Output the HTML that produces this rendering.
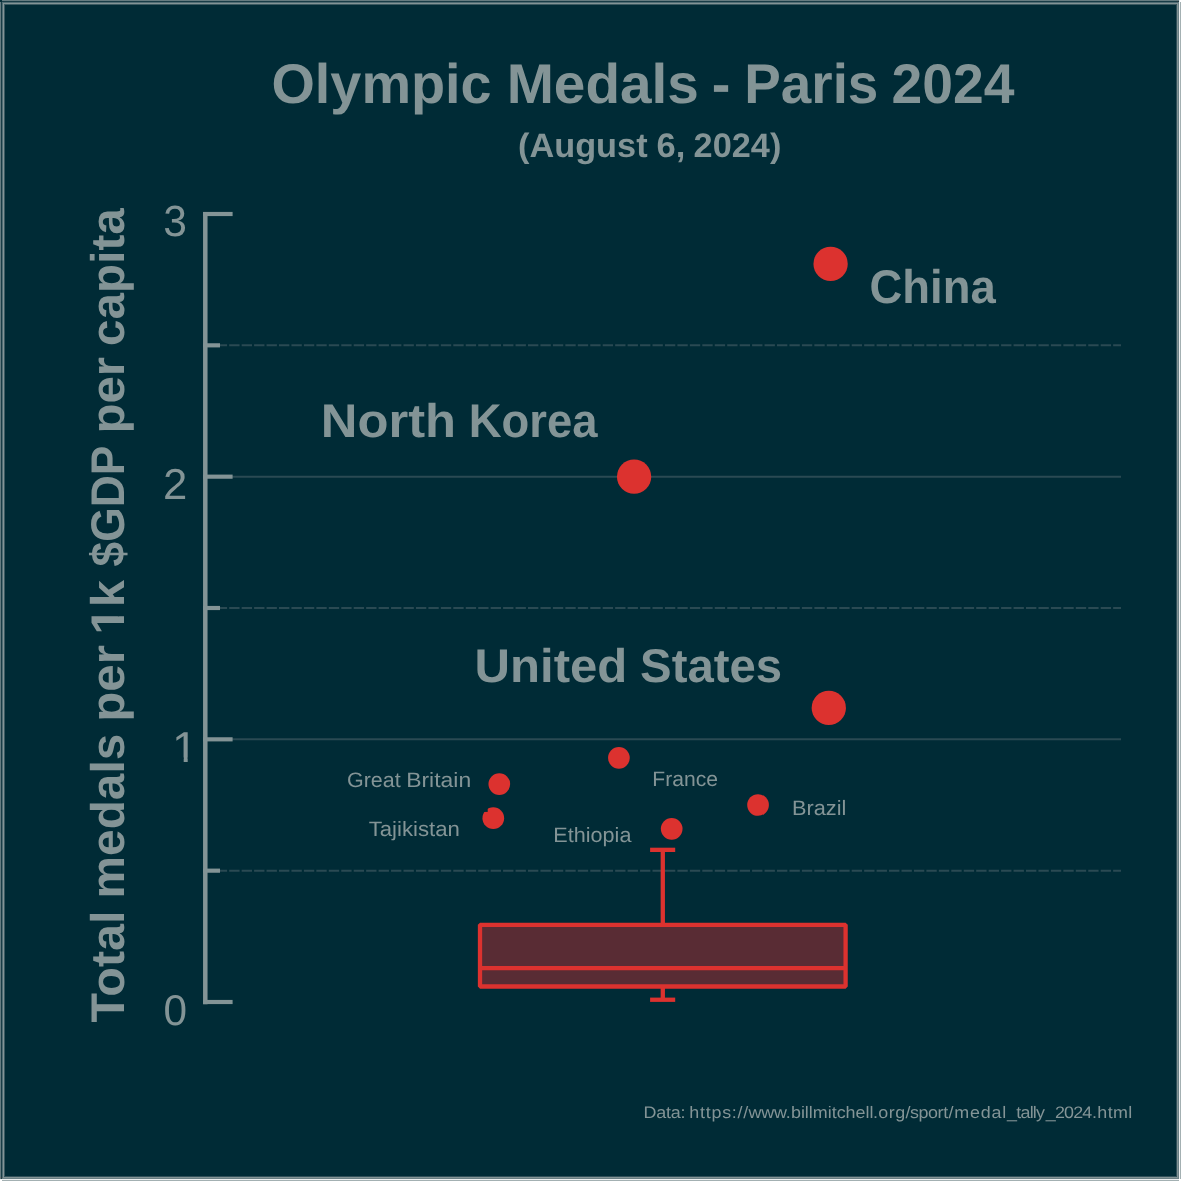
<!DOCTYPE html>
<html lang="en">
<head>
<meta charset="utf-8">
<title>Olympic Medals - Paris 2024</title>
<style>
html,body{margin:0;padding:0;background:#002b36;overflow:hidden}
svg{display:block}
text{font-family:"Liberation Sans", sans-serif;fill:#839496;white-space:pre;text-rendering:geometricPrecision}
.b{font-weight:bold}
</style>
</head>
<body>
<svg width="1181" height="1181" viewBox="0 0 1181 1181" role="img">
<rect x="0" y="0" width="1181" height="1181" fill="#002b36"/>
<g shape-rendering="crispEdges">
<rect x="0" y="2" width="1" height="1177" fill="#667c81"/>
<rect x="2" y="0" width="1177" height="1" fill="#667c81"/>
<rect x="1" y="0" width="1" height="1179" fill="#183d47"/>
<rect x="0" y="1" width="1179" height="1" fill="#183d47"/>
<rect x="0" y="0" width="2" height="2" fill="#062f3a"/>
<rect x="4" y="4" width="1" height="1173" fill="#3c5a62"/>
<rect x="4" y="4" width="1173" height="1" fill="#3c5a62"/>
<rect x="1176" y="4" width="1" height="1173" fill="#31515b"/>
<rect x="4" y="1176" width="1173" height="1" fill="#31515b"/>
<rect x="2" y="2" width="1" height="1177" fill="#506c74"/>
<rect x="2" y="2" width="1177" height="1" fill="#506c74"/>
<rect x="1178" y="2" width="1" height="1177" fill="#6a7f84"/>
<rect x="2" y="1178" width="1177" height="1" fill="#6a7f84"/>
<rect x="3" y="3" width="1" height="1175" fill="#839496"/>
<rect x="3" y="3" width="1175" height="1" fill="#839496"/>
<rect x="1177" y="3" width="1" height="1175" fill="#839496"/>
<rect x="3" y="1177" width="1175" height="1" fill="#839496"/>
<rect x="1177" y="1" width="1" height="1" fill="#34393d"/>
<rect x="1" y="1177" width="1" height="1" fill="#34393d"/>
<rect x="1180" y="2" width="1" height="1177" fill="#a3b0b2"/>
<rect x="2" y="1180" width="1177" height="1" fill="#a3b0b2"/>
<rect x="1179" y="0" width="1" height="1181" fill="#eceff0"/>
<rect x="0" y="1179" width="1181" height="1" fill="#eceff0"/>
<rect x="1180" y="0" width="1" height="2" fill="#ffffff"/>
<rect x="0" y="1180" width="2" height="1" fill="#ffffff"/>
<rect x="1179" y="1179" width="2" height="2" fill="#ffffff"/>
</g>
<g stroke="#2a4a53" stroke-width="2.08" fill="none">
<line x1="205.4" y1="739.33" x2="1121" y2="739.33"/>
<line x1="205.4" y1="476.67" x2="1121" y2="476.67"/>
<line x1="204.3" y1="870.67" x2="1121" y2="870.67" stroke-dasharray="10.35 2.1"/>
<line x1="204.3" y1="608.00" x2="1121" y2="608.00" stroke-dasharray="10.35 2.1"/>
<line x1="204.3" y1="345.33" x2="1121" y2="345.33" stroke-dasharray="10.35 2.1"/>
</g>
<g stroke="#839496" stroke-width="4.17" fill="none">
<line x1="205.3" y1="211.92" x2="205.3" y2="1004.30" stroke-width="4.5"/>
<line x1="203.1" y1="1002.00" x2="232.6" y2="1002.00"/>
<line x1="203.1" y1="739.33" x2="232.6" y2="739.33"/>
<line x1="203.1" y1="476.67" x2="232.6" y2="476.67"/>
<line x1="203.1" y1="214.00" x2="232.6" y2="214.00"/>
<line x1="203.1" y1="870.67" x2="220.0" y2="870.67"/>
<line x1="203.1" y1="608.00" x2="220.0" y2="608.00"/>
<line x1="203.1" y1="345.33" x2="220.0" y2="345.33"/>
</g>
<g stroke="#dc322f" stroke-width="4.3" fill="none" stroke-linejoin="bevel">
<line x1="662.8" y1="849.85" x2="662.8" y2="924.75"/>
<line x1="662.8" y1="986.5" x2="662.8" y2="999.75"/>
<line x1="650.1" y1="849.85" x2="675.2" y2="849.85"/>
<line x1="650.1" y1="999.75" x2="675.2" y2="999.75"/>
<rect x="480.0" y="924.85" width="365.60" height="61.65" fill="#592c34"/>
<line x1="480.0" y1="968.05" x2="845.6" y2="968.05"/>
</g>
<g fill="#dc322f">
<circle cx="830.6" cy="263.9" r="17.15"/>
<circle cx="634.1" cy="476.7" r="17.15"/>
<circle cx="828.8" cy="707.9" r="17.15"/>
<circle cx="499.3" cy="784.1" r="10.85"/>
<circle cx="618.9" cy="757.9" r="10.85"/>
<circle cx="493.3" cy="818.2" r="10.85"/>
<circle cx="758.05" cy="805.0" r="10.85"/>
<circle cx="671.7" cy="828.8" r="10.85"/>
</g>
<rect x="483" y="808" width="4.7" height="3.9" fill="#002b36"/>
<text class="b" font-size="54.17" y="0" transform="translate(0,103.00) scale(1,1.0300)"><tspan x="271.48" textLength="220.14" lengthAdjust="spacingAndGlyphs">Olympic</tspan> <tspan x="506.66" textLength="192.18" lengthAdjust="spacingAndGlyphs">Medals</tspan> <tspan x="711.71" textLength="18.64" lengthAdjust="spacingAndGlyphs">-</tspan> <tspan x="744.28" textLength="134.08" lengthAdjust="spacingAndGlyphs">Paris</tspan> <tspan x="891.49" textLength="122.95" lengthAdjust="spacingAndGlyphs">2024</tspan></text>
<text class="b" font-size="33.33" y="0" transform="translate(0,157.00) scale(1,1.0200)"><tspan x="518.03" textLength="129.57" lengthAdjust="spacingAndGlyphs">(August</tspan> <tspan x="656.60" textLength="28.85" lengthAdjust="spacingAndGlyphs">6,</tspan> <tspan x="693.64" textLength="87.73" lengthAdjust="spacingAndGlyphs">2024)</tspan></text>
<clipPath id="clip_ytitle"><path clip-rule="evenodd" d="M-3000,-300H3000V300H-3000Z M-632.47,-5.95H-623.05V1H-632.47Z M-616.36,-5.95H-607.61V1H-616.36Z"/></clipPath>
<text class="b" clip-path="url(#clip_ytitle)" font-size="45.83" y="0" transform="translate(123.95,0) rotate(-90) scale(1,1.0300)"><tspan x="-1022.63" textLength="112.11" lengthAdjust="spacingAndGlyphs">Total</tspan> <tspan x="-898.43" textLength="164.65" lengthAdjust="spacingAndGlyphs">medals</tspan> <tspan x="-721.72" textLength="76.58" lengthAdjust="spacingAndGlyphs">per</tspan> <tspan x="-634.54" textLength="54.53" lengthAdjust="spacingAndGlyphs">1k</tspan> <tspan x="-566.50" textLength="120.09" lengthAdjust="spacingAndGlyphs">$GDP</tspan> <tspan x="-433.62" textLength="76.47" lengthAdjust="spacingAndGlyphs">per</tspan> <tspan x="-345.92" textLength="137.66" lengthAdjust="spacingAndGlyphs">capita</tspan></text>
<text font-size="41.67" y="0" transform="translate(0,236.30) scale(1,1.0450)"><tspan x="163.24" textLength="23.70" lengthAdjust="spacingAndGlyphs">3</tspan></text>
<text font-size="41.67" y="0" transform="translate(0,499.10) scale(1,1.0360)"><tspan x="162.97" textLength="24.27" lengthAdjust="spacingAndGlyphs">2</tspan></text>
<clipPath id="clip_t1"><path clip-rule="evenodd" d="M-3000,-300H3000V300H-3000Z M174.53,-4.33H183.69V1H174.53Z M187.70,-4.33H196.44V1H187.70Z"/></clipPath>
<text clip-path="url(#clip_t1)" font-size="41.67" y="0" transform="translate(0,762.00) scale(1,1.0340)"><tspan x="172.08" textLength="25.63" lengthAdjust="spacingAndGlyphs">1</tspan></text>
<text font-size="41.67" y="0" transform="translate(0,1025.00) scale(1,1.0300)"><tspan x="163.55" textLength="23.55" lengthAdjust="spacingAndGlyphs">0</tspan></text>
<text class="b" font-size="45.83" y="0" transform="translate(0,302.90) scale(1,1.0300)"><tspan x="869.54" textLength="126.25" lengthAdjust="spacingAndGlyphs">China</tspan></text>
<text class="b" font-size="45.83" y="0" transform="translate(0,437.00) scale(1,1.0300)"><tspan x="320.84" textLength="135.27" lengthAdjust="spacingAndGlyphs">North</tspan> <tspan x="468.70" textLength="128.76" lengthAdjust="spacingAndGlyphs">Korea</tspan></text>
<text class="b" font-size="45.83" y="0" transform="translate(0,681.80) scale(1,1.0300)"><tspan x="474.55" textLength="152.85" lengthAdjust="spacingAndGlyphs">United</tspan> <tspan x="640.08" textLength="142.02" lengthAdjust="spacingAndGlyphs">States</tspan></text>
<text font-size="20.83" y="0" transform="translate(0,787.00) scale(1,1.0000)"><tspan x="346.97" textLength="53.73" lengthAdjust="spacingAndGlyphs">Great</tspan> <tspan x="406.17" textLength="65.06" lengthAdjust="spacingAndGlyphs">Britain</tspan></text>
<text font-size="20.83" y="0" transform="translate(0,835.90) scale(1,1.0000)"><tspan x="368.67" textLength="91.25" lengthAdjust="spacingAndGlyphs">Tajikistan</tspan></text>
<text font-size="20.83" y="0" transform="translate(0,842.00) scale(1,1.0000)"><tspan x="553.39" textLength="78.05" lengthAdjust="spacingAndGlyphs">Ethiopia</tspan></text>
<text font-size="20.83" y="0" transform="translate(0,785.90) scale(1,1.0000)"><tspan x="652.33" textLength="65.64" lengthAdjust="spacingAndGlyphs">France</tspan></text>
<text font-size="20.83" y="0" transform="translate(0,814.80) scale(1,1.0000)"><tspan x="791.97" textLength="54.33" lengthAdjust="spacingAndGlyphs">Brazil</tspan></text>
<text font-size="16.67" x="0" y="0" dx="0 -0.17 -0.17 -0.17 -0.17 0 -1.27 0.7 0.7 0.7 0.7 0.7 0.7 0.7 0.11 -0.13 -0.13 -0.13 0.12 -0.01 -0.01 -0.01 -0.01 -0.01 -0.01 -0.01 -0.01 -0.01 -0.01 -0.01 -0.53 0.44 0.44 0.44 0.22 -0.39 -0.39 -0.39 -0.39 -0.39 0.4 0.72 0.72 0.72 0.72 0.72 0.82 -0.72 -0.72 -0.72 -0.72 -0.72 0.7 -0.76 -0.76 -0.76 -0.76 -0.36 0.35 0.35 0.35 0.35" transform="translate(643.52,1118.00) scale(1.0750,1.0000)">Data: https://www.billmitchell.org/sport/medal_tally_2024.html</text>
</svg>
</body>
</html>
